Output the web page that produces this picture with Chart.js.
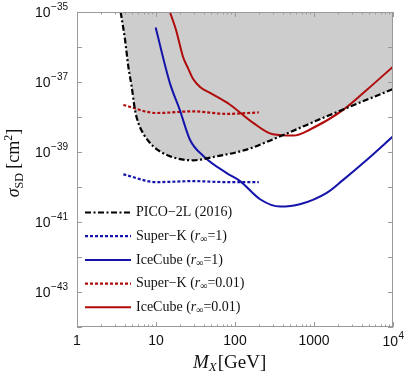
<!DOCTYPE html>
<html>
<head>
<meta charset="utf-8">
<script src="https://cdn.jsdelivr.net/npm/chart.js@4.4.1/dist/chart.umd.min.js"></script>
<style>
  body { margin: 0; background: #fff; }
  canvas { display: block; }
</style>
</head>
<body>
<canvas id="limitsChart" width="407" height="382"></canvas>
<script>
// values (mass in GeV, cross section in cm^2)
const picoMass = [3.57, 4.06, 4.46, 4.92, 5.42, 5.97, 7.0, 9.25, 15, 29.5, 53, 140, 372, 1450, 10000];
const picoSigma = [1e-35, 1.6e-36, 2.8e-37, 7.4e-38, 1.6e-38, 6.8e-39, 3.2e-39, 1.45e-39, 7.6e-40, 5.8e-40, 7.2e-40, 1.17e-39, 2.8e-39, 1.05e-38, 6.3e-38];

const skMass = [3.86, 10.2, 29.5, 78.5, 200];
const skSigma1 = [2.3e-40, 1.38e-40, 1.47e-40, 1.38e-40, 1.38e-40];
const skSigma001 = [2.2e-38, 1.3e-38, 1.45e-38, 1.23e-38, 1.35e-38];

const icMass1 = [9.9, 15, 20, 27, 40, 78.5, 115, 210, 372, 660, 1450, 2340, 4680, 10000];
const icSigma1 = [3.6e-36, 9.3e-38, 1.6e-38, 2.2e-39, 7.6e-40, 2.5e-40, 1.5e-40, 4.4e-41, 2.75e-41, 3.2e-41, 6.8e-41, 1.6e-40, 6e-40, 2.8e-39];

const icMass001 = [15, 17.9, 22, 25.4, 29.4, 36.1, 48.3, 86.5, 170, 302, 550, 890, 2340, 4680, 10000];
const icSigma001 = [1e-35, 3.1e-36, 5.2e-37, 2.5e-37, 1.23e-37, 7.2e-38, 4.9e-38, 2.24e-38, 6.8e-39, 3.2e-39, 2.95e-39, 4.4e-39, 1.6e-38, 6e-38, 2.75e-37];

const xTicks = [1, 10, 100, 1000, 10000];
const xTickLabels = ['1', '10', '100', '1000', ['10', '4']];
const yTicks = [1e-35, 1e-37, 1e-39, 1e-41, 1e-43];
const yTickLabels = [['10', '\u221235'], ['10', '\u221237'], ['10', '\u221239'], ['10', '\u221241'], ['10', '\u221243']];

const legendNames = ['PICO\u22122L (2016)', 'Super\u2212K', 'IceCube', 'Super\u2212K', 'IceCube'];
const legendR = [null, '=1)', '=1)', '=0.01)', '=0.01)'];

const BLUE = '#1414aa';
const RED = '#b00a0a';

function pts(xs, ys) {
  return xs.map((x, i) => ({ x: x, y: ys[i] }));
}

const serif = '"Liberation Serif", "Times New Roman", serif';
const sans = '"Liberation Sans", Arial, sans-serif';

const framePlugin = {
  id: 'frame',
  afterDraw(chart) {
    const ctx = chart.ctx;
    const a = chart.chartArea;
    const xs = chart.scales.x;
    const ys = chart.scales.y;
    ctx.save();

    // frame
    ctx.strokeStyle = '#9a9a9a';
    ctx.lineWidth = 1;
    ctx.strokeRect(a.left + 0.5, a.top + 0.5, a.right - a.left - 1, a.bottom - a.top - 1);

    // x ticks (major + minor), bottom and top
    ctx.beginPath();
    for (let d = 0; d <= 4; d++) {
      for (let m = 1; m <= 9; m++) {
        const v = m * Math.pow(10, d);
        if (v > 10000) break;
        const px = Math.round(xs.getPixelForValue(v)) + 0.5;
        const len = m === 1 ? 5 : 2.5;
        ctx.moveTo(px, a.bottom);
        ctx.lineTo(px, a.bottom - len);
        ctx.moveTo(px, a.top);
        ctx.lineTo(px, a.top + len);
      }
    }
    // y ticks each decade, left and right
    for (let e = -44; e <= -35; e++) {
      const py = Math.round(ys.getPixelForValue(Math.pow(10, e))) + 0.5;
      ctx.moveTo(a.left, py);
      ctx.lineTo(a.left + 5, py);
      ctx.moveTo(a.right, py);
      ctx.lineTo(a.right - 5, py);
    }
    ctx.stroke();

    // x tick labels
    ctx.fillStyle = '#111';
    ctx.textBaseline = 'middle';
    xTicks.forEach((v, i) => {
      const px = xs.getPixelForValue(v);
      const lab = xTickLabels[i];
      if (Array.isArray(lab)) {
        ctx.font = '14px ' + sans;
        const w1 = ctx.measureText(lab[0]).width;
        ctx.font = '10px ' + sans;
        const w2 = ctx.measureText(lab[1]).width;
        const x0 = px - (w1 + w2) / 2;
        ctx.textAlign = 'left';
        ctx.font = '14px ' + sans;
        ctx.fillText(lab[0], x0, a.bottom + 15);
        ctx.font = '10px ' + sans;
        ctx.fillText(lab[1], x0 + w1 + 0.5, a.bottom + 9);
      } else {
        ctx.font = '14px ' + sans;
        ctx.textAlign = 'center';
        ctx.fillText(lab, px, a.bottom + 14);
      }
    });

    // y tick labels
    yTicks.forEach((v, i) => {
      const py = ys.getPixelForValue(v);
      const lab = yTickLabels[i];
      ctx.font = '10px ' + sans;
      const w2 = ctx.measureText(lab[1]).width;
      ctx.textAlign = 'right';
      ctx.fillText(lab[1], a.left - 9, py - 5);
      ctx.font = '14px ' + sans;
      ctx.fillText(lab[0], a.left - 9 - w2 - 0.5, py + 1);
    });

    // x axis title: M_X[GeV]
    ctx.textAlign = 'left';
    ctx.textBaseline = 'alphabetic';
    ctx.font = 'italic 19px ' + serif;
    const wM = ctx.measureText('M').width;
    ctx.font = 'italic 13px ' + serif;
    const wX = ctx.measureText('X').width;
    ctx.font = '19px ' + serif;
    const wG = ctx.measureText('[GeV]').width;
    let tx = 193;
    const ty = 368;
    ctx.font = 'italic 19px ' + serif;
    ctx.fillText('M', tx, ty);
    ctx.font = 'italic 13px ' + serif;
    ctx.fillText('X', tx + wM, ty + 3);
    ctx.font = '19px ' + serif;
    ctx.fillText('[GeV]', tx + wM + wX + 1, ty);

    // y axis title: sigma_SD [cm^2]
    ctx.save();
    ctx.translate(19, 163);
    ctx.rotate(-Math.PI / 2);
    ctx.font = 'italic 18px ' + serif;
    const ws = ctx.measureText('\u03c3').width;
    ctx.font = '12px ' + serif;
    const wsd = ctx.measureText('SD').width;
    ctx.font = '18px ' + serif;
    const wcm = ctx.measureText(' [cm').width;
    ctx.font = '12px ' + serif;
    const w2 = ctx.measureText('2').width;
    ctx.font = '18px ' + serif;
    const wb = ctx.measureText(']').width;
    let yx = -(ws + wsd + wcm + w2 + wb) / 2;
    ctx.font = 'italic 18px ' + serif;
    ctx.fillText('\u03c3', yx, 0);
    yx += ws;
    ctx.font = '12px ' + serif;
    ctx.fillText('SD', yx, 4);
    yx += wsd;
    ctx.font = '18px ' + serif;
    ctx.fillText(' [cm', yx, 0);
    yx += wcm;
    ctx.font = '12px ' + serif;
    ctx.fillText('2', yx, -7);
    yx += w2;
    ctx.font = '18px ' + serif;
    ctx.fillText(']', yx, 0);
    ctx.restore();

    // legend inside the plot
    const rowY0 = 212.5;
    const rowStep = 23.7;
    chart.data.datasets.forEach((ds, i) => {
      const y = rowY0 + i * rowStep;
      ctx.save();
      ctx.strokeStyle = ds.borderColor;
      ctx.lineWidth = ds.borderWidth;
      ctx.setLineDash(ds.borderDash || []);
      ctx.beginPath();
      ctx.moveTo(85, y);
      ctx.lineTo(131, y);
      ctx.stroke();
      ctx.restore();

      ctx.fillStyle = '#111';
      ctx.textAlign = 'left';
      ctx.textBaseline = 'middle';
      ctx.font = '14px ' + serif;
      let lx = 136;
      let name = legendNames[i];
      if (legendR[i] === null) {
        ctx.fillText(name, lx, y);
        return;
      }
      name += ' (';
      ctx.fillText(name, lx, y);
      lx += ctx.measureText(name).width;
      ctx.font = 'italic 14px ' + serif;
      ctx.fillText('r', lx, y);
      lx += ctx.measureText('r').width;
      ctx.font = '10px ' + serif;
      ctx.fillText('\u221e', lx, y + 3);
      lx += ctx.measureText('\u221e').width;
      ctx.font = '14px ' + serif;
      ctx.fillText(legendR[i], lx, y);
    });

    ctx.restore();
  }
};

const ctx = document.getElementById('limitsChart').getContext('2d');
new Chart(ctx, {
  type: 'line',
  data: {
    datasets: [
      {
        label: 'PICO-2L (2016)',
        data: pts(picoMass, picoSigma),
        borderColor: '#000',
        borderWidth: 2.2,
        borderDash: [6, 2.5, 2, 2.5],
        backgroundColor: '#cdcdcd',
        fill: 'end',
        pointRadius: 0,
        cubicInterpolationMode: 'monotone'
      },
      {
        label: 'Super-K (r=1)',
        data: pts(skMass, skSigma1),
        borderColor: BLUE,
        borderWidth: 2.2,
        borderDash: [3, 2],
        pointRadius: 0,
        fill: false,
        cubicInterpolationMode: 'monotone'
      },
      {
        label: 'IceCube (r=1)',
        data: pts(icMass1, icSigma1),
        borderColor: BLUE,
        borderWidth: 2,
        pointRadius: 0,
        fill: false,
        cubicInterpolationMode: 'monotone'
      },
      {
        label: 'Super-K (r=0.01)',
        data: pts(skMass, skSigma001),
        borderColor: RED,
        borderWidth: 2.2,
        borderDash: [3, 2],
        pointRadius: 0,
        fill: false,
        cubicInterpolationMode: 'monotone'
      },
      {
        label: 'IceCube (r=0.01)',
        data: pts(icMass001, icSigma001),
        borderColor: RED,
        borderWidth: 2,
        pointRadius: 0,
        fill: false,
        cubicInterpolationMode: 'monotone'
      }
    ]
  },
  options: {
    responsive: false,
    animation: false,
    layout: { padding: { left: 77, top: 12, right: 14, bottom: 55 } },
    scales: {
      x: { type: 'logarithmic', min: 1, max: 10000, display: false },
      y: { type: 'logarithmic', min: 1e-44, max: 1e-35, display: false }
    },
    plugins: {
      legend: { display: false },
      tooltip: { enabled: false },
      filler: { drawTime: 'beforeDatasetsDraw' }
    }
  },
  plugins: [framePlugin]
});
</script>
</body>
</html>
